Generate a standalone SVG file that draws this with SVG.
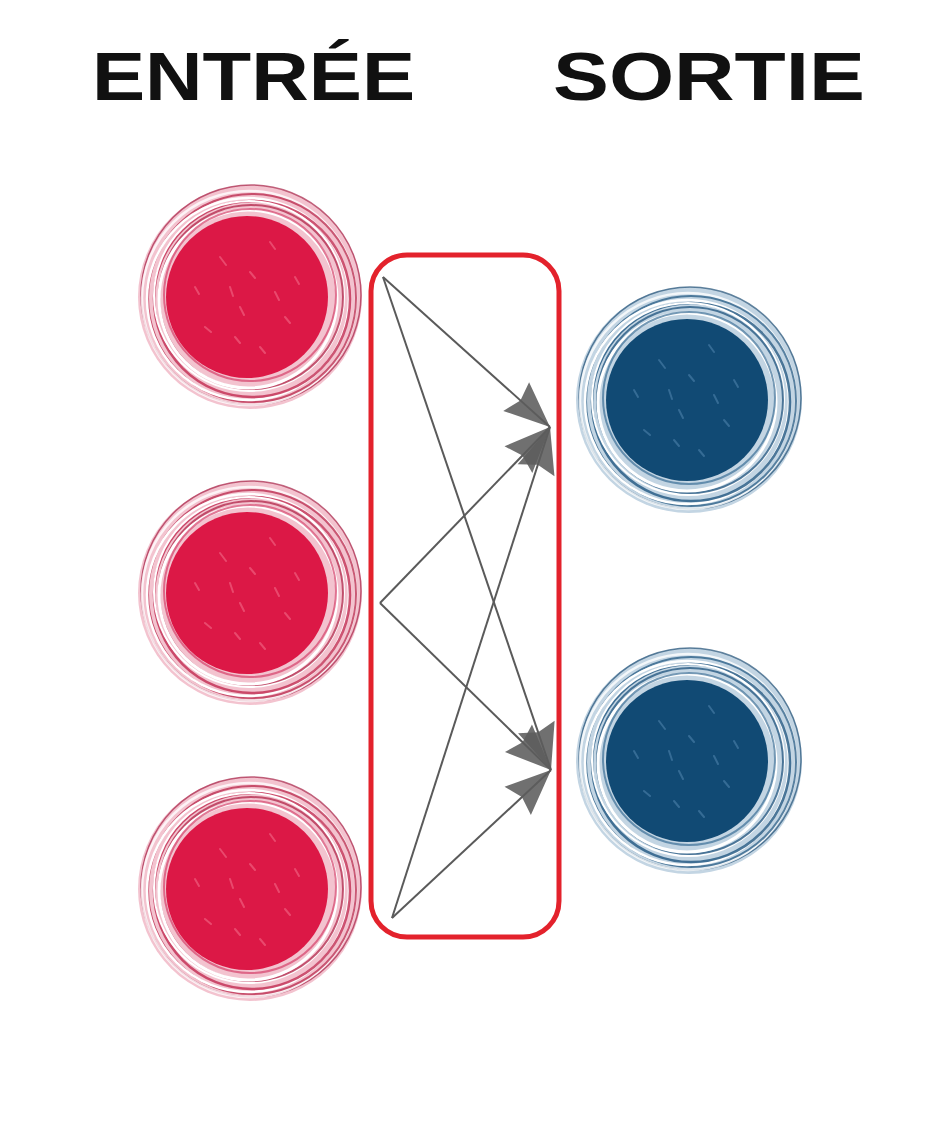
<svg xmlns="http://www.w3.org/2000/svg" width="944" height="1128" viewBox="0 0 944 1128">
<style>
.title{font-family:"Liberation Sans","DejaVu Sans",sans-serif;font-weight:bold;font-size:68px;fill:#111;}
.edge{stroke:#5a5a5a;stroke-width:2;fill:none;}
.frame{fill:none;stroke:#e3222c;stroke-width:5;}
</style>
<defs>
<marker id="ah" markerUnits="userSpaceOnUse" markerWidth="50" markerHeight="50" refX="0" refY="0" viewBox="-42 -20 44 40" orient="auto">
<path d="M0,0 L-40,-17 L-35,0 L-40,17 Z" fill="#5c5c5c" fill-opacity="0.88"/>
</marker>
<g id="ringsRed">
<circle r="112" fill="#f3c3cf"/>
<circle cx="1" cy="-2" r="110" fill="none" stroke="#a52044" stroke-width="1.5" stroke-opacity="0.7"/>
<circle cx="-1" cy="1" r="107" fill="none" stroke="#ffffff" stroke-width="2.5" stroke-opacity="0.8"/>
<circle cx="2" cy="1" r="104" fill="none" stroke="#b8264a" stroke-width="2" stroke-opacity="0.75"/>
<circle cx="-2" cy="2" r="101" fill="none" stroke="#ffffff" stroke-width="2.5"/>
<circle cx="2" cy="2" r="98" fill="none" stroke="#c02a50" stroke-width="2.5" stroke-opacity="0.8"/>
<circle cx="-1" cy="-1" r="95" fill="none" stroke="#ffffff" stroke-width="2"/>
<circle cx="1" cy="0" r="92" fill="none" stroke="#b02448" stroke-width="2" stroke-opacity="0.75"/>
<circle cx="-2" cy="2" r="89" fill="none" stroke="#ffffff" stroke-width="3"/>
<circle cx="0" cy="-2" r="86" fill="none" stroke="#d4406a" stroke-width="2" stroke-opacity="0.7"/>
<circle cx="-3" cy="0" r="81" fill="#dc1846"/>
<g stroke="#f36a88" stroke-width="2" stroke-linecap="round" opacity="0.6">
<path d="M-30,-40 l6,8 M20,-55 l5,7 M-10,10 l4,8 M35,20 l5,6 M-45,30 l6,5 M10,50 l5,6 M-20,-10 l3,9 M45,-20 l4,7 M-55,-10 l4,7 M0,-25 l5,6 M25,-5 l4,8 M-15,40 l5,6"/>
</g>
</g>
<g id="ringsBlue">
<circle r="113" fill="#c3d5e3"/>
<circle cx="1" cy="-2" r="111" fill="none" stroke="#1f4f75" stroke-width="1.5" stroke-opacity="0.7"/>
<circle cx="-1" cy="1" r="108" fill="none" stroke="#ffffff" stroke-width="2.5" stroke-opacity="0.8"/>
<circle cx="2" cy="1" r="105" fill="none" stroke="#245a83" stroke-width="2" stroke-opacity="0.75"/>
<circle cx="-2" cy="2" r="102" fill="none" stroke="#ffffff" stroke-width="2.5"/>
<circle cx="2" cy="2" r="99" fill="none" stroke="#1f5580" stroke-width="2.5" stroke-opacity="0.8"/>
<circle cx="-1" cy="-1" r="96" fill="none" stroke="#ffffff" stroke-width="2"/>
<circle cx="1" cy="0" r="93" fill="none" stroke="#1d517c" stroke-width="2" stroke-opacity="0.75"/>
<circle cx="-2" cy="2" r="89" fill="none" stroke="#ffffff" stroke-width="3"/>
<circle cx="0" cy="-2" r="86" fill="none" stroke="#3b6d95" stroke-width="2" stroke-opacity="0.7"/>
<circle cx="-2" cy="0" r="81" fill="#114a74"/>
<g stroke="#4d82ab" stroke-width="2" stroke-linecap="round" opacity="0.6">
<path d="M-30,-40 l6,8 M20,-55 l5,7 M-10,10 l4,8 M35,20 l5,6 M-45,30 l6,5 M10,50 l5,6 M-20,-10 l3,9 M45,-20 l4,7 M-55,-10 l4,7 M0,-25 l5,6 M25,-5 l4,8 M-15,40 l5,6"/>
</g>
</g>
</defs>
<rect width="944" height="1128" fill="#ffffff"/>
<g id="titles">
<text class="title" x="92" y="100" textLength="323" lengthAdjust="spacingAndGlyphs">ENTRÉE</text>
<text class="title" x="553" y="100" textLength="312" lengthAdjust="spacingAndGlyphs">SORTIE</text>
</g>
<g id="in1"><use href="#ringsRed" x="250" y="297"/></g>
<g id="in2"><use href="#ringsRed" x="250" y="593"/></g>
<g id="in3"><use href="#ringsRed" x="250" y="889"/></g>
<g id="out1"><use href="#ringsBlue" x="689" y="400"/></g>
<g id="out2"><use href="#ringsBlue" x="689" y="761"/></g>
<g id="layer">
<rect class="frame" x="371" y="255" width="188" height="682" rx="36" ry="36"/>
</g>
<g id="connectors">
<line class="edge" x1="383" y1="277" x2="550" y2="427" marker-end="url(#ah)"/>
<line class="edge" x1="383" y1="277" x2="551" y2="770" marker-end="url(#ah)"/>
<line class="edge" x1="380" y1="603" x2="550" y2="427" marker-end="url(#ah)"/>
<line class="edge" x1="380" y1="603" x2="551" y2="770" marker-end="url(#ah)"/>
<line class="edge" x1="392" y1="918" x2="550" y2="427" marker-end="url(#ah)"/>
<line class="edge" x1="392" y1="918" x2="551" y2="770" marker-end="url(#ah)"/>
</g>
</svg>
